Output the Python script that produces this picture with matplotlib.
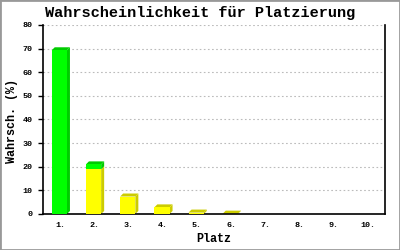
import matplotlib
matplotlib.use("Agg")
import matplotlib.pyplot as plt
from matplotlib.patches import Polygon, Rectangle

categories = ["1.", "2.", "3.", "4.", "5.", "6.", "7.", "8.", "9.", "10."]
yellow_vals = [0, 18.9, 7.4, 2.8, 0.6, 0.15, 0, 0, 0, 0]
green_vals = [69.3, 2.1, 0, 0, 0, 0, 0, 0, 0, 0]
yticks = [0, 10, 20, 30, 40, 50, 60, 70, 80]

fig = plt.figure(figsize=(4, 2.5), dpi=100)
fig.patch.set_facecolor("white")
ax = fig.add_axes([0.1075, 0.144, 0.855, 0.756])
ax.set_xlim(-0.5, 9.5)
ax.set_ylim(0, 80)

mono = "Liberation Mono"
# grid
for y in yticks[1:]:
    ax.axhline(y, color="#bbbbbb", lw=0.8, dashes=(1.5, 2.2), zorder=0)

x_off0, x_off1 = -0.245, 0.2
dx = 0.088
dy = 80 * 3 / 189.0


def draw_seg(i, y0, y1, front, dark, top):
    x0, x1 = i + x_off0, i + x_off1
    # side
    ax.add_patch(Polygon([(x1, y0), (x1 + dx, y0 + dy), (x1 + dx, y1 + dy), (x1, y1)],
                         closed=True, facecolor=dark, edgecolor="none", zorder=2))
    if top:
        ax.add_patch(Polygon([(x0, y1), (x0 + dx, y1 + dy), (x1 + dx, y1 + dy), (x1, y1)],
                             closed=True, facecolor=dark, edgecolor="none", zorder=2))
    ax.add_patch(Rectangle((x0, y0), x1 - x0, y1 - y0, facecolor=front,
                           edgecolor="none", zorder=3))


for i in range(len(categories)):
    yv = yellow_vals[i]
    gv = green_vals[i]
    if yv > 0:
        draw_seg(i, 0, yv, "#ffff00", "#cccc00", gv <= 0)
    if gv > 0:
        draw_seg(i, yv, yv + gv, "#00ff00", "#00cc00", True)

ax.set_xticks(range(len(categories)))
ax.set_xticklabels(categories, fontfamily=mono, fontsize=6, fontweight="bold")
ax.set_yticks(yticks)
ax.set_yticklabels([str(v) for v in yticks], fontfamily=mono, fontsize=6, fontweight="bold")
ax.tick_params(axis="x", length=0, pad=6)
ax.tick_params(axis="y", length=3.6, width=1, pad=4, direction="out")

for s in ["left", "bottom", "right"]:
    ax.spines[s].set_color("black")
    ax.spines[s].set_linewidth(1.2)
ax.spines["top"].set_visible(False)

fig.text(0.5, 0.948, "Wahrscheinlichkeit für Platzierung", ha="center", va="center",
         fontfamily=mono, fontsize=11, fontweight="bold")
fig.text(0.535, 0.044, "Platz", ha="center", va="center",
         fontfamily=mono, fontsize=8.5, fontweight="bold")
fig.text(0.03, 0.516, "Wahrsch. (%)", ha="center", va="center", rotation=90,
         fontfamily=mono, fontsize=8.5, fontweight="bold")

fig.patches.append(Rectangle((0, 0), 1, 1, transform=fig.transFigure, fill=False,
                             edgecolor="#999999", lw=2))

fig.savefig("out.png", dpi=100)
